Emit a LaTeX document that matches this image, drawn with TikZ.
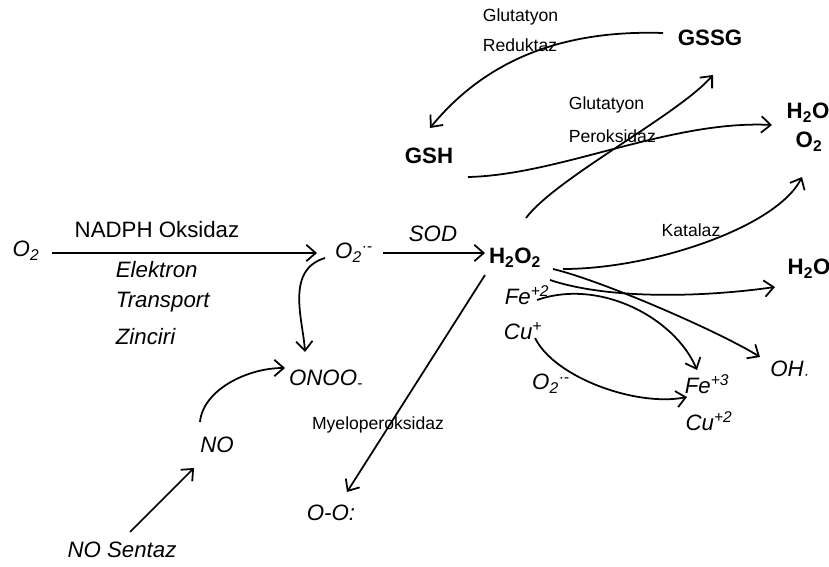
\documentclass[tikz,border=0pt]{standalone}
\usepackage{fontspec}
\setmainfont{Liberation Sans}
\usetikzlibrary{arrows.meta}
\tikzset{
  lbl/.style={inner sep=0pt, font=\fontsize{19}{22}\selectfont},
  itl/.style={inner sep=0pt, font=\fontsize{19}{22}\selectfont\itshape},
  chem/.style={inner sep=0pt, font=\fontsize{19}{22}\selectfont\bfseries},
  enz/.style={inner sep=0pt, font=\fontsize{15}{18}\selectfont},
}
\begin{document}
\begin{tikzpicture}[x=0.03cm,y=-0.03cm,line width=1.5pt,>={Straight Barb[length=8pt,width=14pt]}]
\useasboundingbox (0,0) rectangle (829,567);
\node[itl](o2) at (26,251) {O\textsubscript{2}};
\node[lbl](nadph) at (157,230) {NADPH Oksidaz};
\node[itl,anchor=west](elek) at (115,270) {Elektron};
\node[itl,anchor=west](trans) at (115,302) {Transport};
\node[itl,anchor=west](zinc) at (115,337) {Zinciri};
\node[itl](o2r) at (354,253) {O\textsubscript{2}\textsuperscript{·-}};
\draw[->]([shift={(26,2)}]o2.center) -- ([shift={(-37,0)}]o2r.center) {};
%
\node[itl](sod) at (433,234) {SOD};
\node[chem](h2o2) at (515,258) {H\textsubscript{2}O\textsubscript{2}};
\draw[->]([shift={(29,0)}]o2r.center) -- ([shift={(-30,-5)}]h2o2.center) {};
%
\node[itl](onoo) at (326,379) {ONOO\textsubscript{-}};
\draw[->]([shift={(-29,5)}]o2r.center) .. controls +(-40,12) and +(-2,-32) .. ([shift={(-21,-27)}]onoo.center) {};
%
\node[itl](no) at (217,445) {NO};
\draw[->]([shift={(-17,-23)}]no.center) .. controls +(3,-32) and +(-38,0) .. ([shift={(-41,-11)}]onoo.center) {};
%
\node[itl](nosentaz) at (122,550) {NO Sentaz};
\draw[->]([shift={(8,-18)}]nosentaz.center) -- ([shift={(-23,23)}]no.center) {};
%
\node[enz](myelo) at (378,425) {Myeloperoksidaz};
\node[itl](oo) at (331,513) {O-O:};
\draw[->]([shift={(-30,17)}]h2o2.center) -- ([shift={(16,-21)}]oo.center) {};
%
\node[chem](gssg) at (710,38) {GSSG};
\node[chem](gsh) at (429,156) {GSH};
\node[enz,anchor=west](glut1) at (482,17) {Glutatyon};
\node[enz,anchor=west](reduk) at (482,45) {Reduktaz};
\draw[->]([shift={(-47,-5)}]gssg.center) .. controls (570,30) and (490,55) .. ([shift={(1,-28)}]gsh.center) {};
%
\node[enz,anchor=west](glut2) at (568,105) {Glutatyon};
\node[enz,anchor=west](perok) at (568,136) {Peroksidaz};
\draw[->]([shift={(11,-40)}]h2o2.center) .. controls +(30,-40) and +(-35,40) .. ([shift={(3,37)}]gssg.center) {};
%
\node[chem](h2oa) at (808,113) {H\textsubscript{2}O};
\node[chem](o2a) at (809,142) {O\textsubscript{2}};
\draw[->]([shift={(39,21)}]gsh.center) .. controls (560,175) and (670,120) .. ([shift={(-36,12)}]h2oa.center) {};
%
\node[enz](katalaz) at (691,230) {Katalaz};
\draw[->]([shift={(48,11)}]h2o2.center) .. controls +(90,0) and +(-25,50) .. ([shift={(-7,35)}]o2a.center) {};
%
\node[chem](h2ob) at (809,269) {H\textsubscript{2}O};
\draw[->]([shift={(35,22)}]h2o2.center) .. controls +(60,20) and +(-70,10) .. ([shift={(-34,18)}]h2ob.center) {};
%
\node[itl](oh) at (790,370) {OH\textsubscript{·}};
\draw[->]([shift={(38,11)}]h2o2.center) .. controls +(50,12) and +(-40,-25) .. ([shift={(-30,-13)}]oh.center) {};
%
\node[itl](fe2) at (527,295) {Fe\textsuperscript{+2}};
\node[itl](cu1) at (523,331) {Cu\textsuperscript{+}};
\node[itl](o2c) at (551,384) {O\textsubscript{2}\textsuperscript{·-}};
\node[itl](fe3) at (707,384) {Fe\textsuperscript{+3}};
\node[itl](cu2) at (709,421) {Cu\textsuperscript{+2}};
\draw[->]([shift={(10,5)}]fe2.center) .. controls +(63,-22) and +(-22,-52) .. ([shift={(-10,-14)}]fe3.center) {};
\draw[->]([shift={(12,7)}]cu1.center) .. controls +(20,40) and +(-50,10) .. ([shift={(-20,13)}]fe3.center) {};
\end{tikzpicture}
\end{document}
